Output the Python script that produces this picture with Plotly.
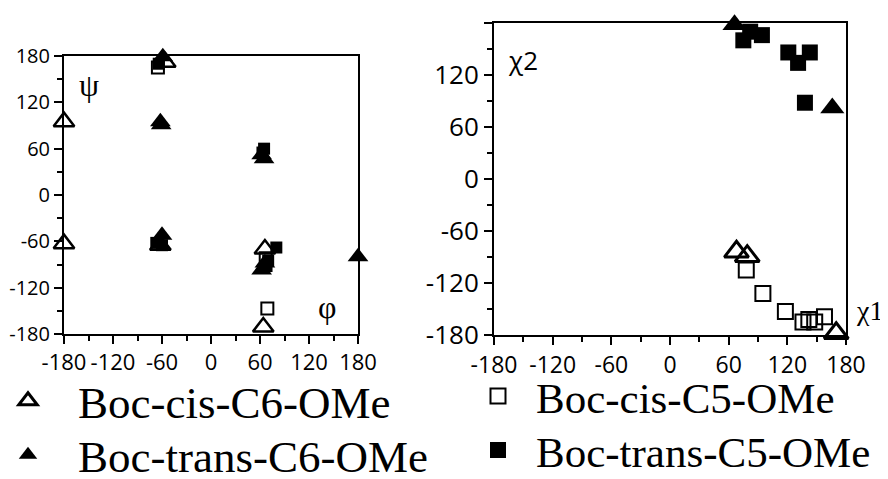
import plotly.graph_objects as go

# ---- data (phi/psi, left panel) ----
cis6_phi = [-180, -180, -62, -56, 66, 64]
cis6_psi = [95, -63, -65, 172, -70, -171]
trans6_phi = [-59, -62, -61, -60, 62, 65, 62, 66, 180]
trans6_psi = [179, 95, 91, -52, 52, 47, -97, -88, -80]
cis5_phi = [-65, 67, 69]
cis5_psi = [165, -82, -147]
trans5_phi = [-64, -67, -60, 65, 63, 80, 68, 70]
trans5_psi = [170, -62, -65, 60, 55, -68, -92, -85]

# ---- data (chi1/chi2, right panel) ----
cis6_chi1 = [68, 79, 170]
cis6_chi2 = [-84, -89, -178]
trans6_chi1 = [66, 166]
trans6_chi2 = [178, 82]
cis5_chi1 = [78, 95, 118, 136, 142, 148, 158]
cis5_chi2 = [-105, -132, -153, -165, -162, -165, -159]
trans5_chi1 = [75, 82, 94, 121, 143, 131, 138]
trans5_chi2 = [160, 170, 166, 146, 146, 134, 88]

tick_vals = [-180, -120, -60, 0, 60, 120, 180]
tick_text = ["-180", "-120", "-60", "0", "60", "120", "180"]

names = ["Boc-cis-C6-OMe", "Boc-trans-C6-OMe", "Boc-cis-C5-OMe", "Boc-trans-C5-OMe"]

fig = go.Figure()

def add(x, y, xa, ya, name, sym, size, lw, show, leg):
    fig.add_trace(go.Scatter(
        x=x, y=y, mode="markers", name=name, xaxis=xa, yaxis=ya,
        cliponaxis=False, showlegend=show, legend=leg,
        marker=dict(symbol=sym, size=size, color="black",
                    line=dict(color="black", width=lw))))

# left panel
add(cis5_phi, cis5_psi, "x", "y", names[2], "square-open", 12, 2, False, "legend")
add(trans5_phi, trans5_psi, "x", "y", names[3], "square", 12, 0, False, "legend")
add(trans6_phi, trans6_psi, "x", "y", names[1], "triangle-up", 18, 0, False, "legend")
add(cis6_phi, cis6_psi, "x", "y", names[0], "triangle-up-open", 18, 2.5, False, "legend")
# right panel
add(cis5_chi1, cis5_chi2, "x2", "y2", names[2], "square-open", 15, 2, True, "legend3")
add(trans5_chi1, trans5_chi2, "x2", "y2", names[3], "square", 16, 0, True, "legend4")
add(trans6_chi1, trans6_chi2, "x2", "y2", names[1], "triangle-up", 21, 0, True, "legend2")
add(cis6_chi1, cis6_chi2, "x2", "y2", names[0], "triangle-up-open", 21, 3, True, "legend")

# page offset (body margin) compensation
OX, OY = 8, 8
W, H = 888 - OX, 479 - OY
def px(x):
    return (x - OX) / W
def py(y):
    return 1 - (y - OY) / H

def axis(domain, anchor, font):
    return dict(domain=domain, anchor=anchor, range=[-180, 180],
                tickvals=tick_vals, ticktext=tick_text, tickfont=font,
                ticks="outside", ticklen=8, tickwidth=2, tickcolor="black",
                minor=dict(dtick=30, tick0=-180, ticks="outside", ticklen=5,
                           tickwidth=2, tickcolor="black"),
                showline=True, linecolor="black", linewidth=2, mirror=True,
                showgrid=False, zeroline=False, fixedrange=True,
                automargin=False)

fig.update_layout(
    width=W, height=H, margin=dict(l=0, r=0, t=0, b=0, autoexpand=False),
    plot_bgcolor="white", paper_bgcolor="white",
    xaxis=axis([px(64), px(358)], "y", dict(family="Open Sans", size=22, color="black")),
    yaxis=axis([py(334), py(56)], "x", dict(family="Open Sans", size=20, color="black")),
    xaxis2=axis([px(494), px(846)], "y2", dict(family="Open Sans", size=23, color="black")),
    yaxis2=axis([py(335), py(23)], "x2", dict(family="Open Sans", size=26, color="black")),
)

def leg(x0, yc, iw, fs):
    return dict(x=px(x0), y=py(yc), xanchor="left", yanchor="middle",
                font=dict(family="Liberation Serif", size=fs, color="black"),
                bgcolor="rgba(0,0,0,0)", borderwidth=0,
                itemwidth=iw, itemsizing="trace")

fig.update_layout(
    legend=leg(-22, 401, 90, 45), legend2=leg(-22, 455, 90, 45),
    legend3=leg(460, 396, 66, 43), legend4=leg(460, 450, 66, 43),
)

ann = [
    dict(text="ψ", x=-150, y=142, xref="x", yref="y", font=dict(family="Liberation Serif", size=32)),
    dict(text="φ", x=142, y=-145, xref="x", yref="y", font=dict(family="Liberation Serif", size=32)),
    dict(text="χ2", x=-150, y=137, xref="x2", yref="y2", font=dict(family="Open Sans", size=26)),
    dict(text="χ1", x=px(885), y=py(310), xref="paper", yref="paper", xanchor="right",
         font=dict(family="Liberation Serif", size=28)),
]
for a in ann:
    a.update(showarrow=False)
    a["font"]["color"] = "black"
fig.update_layout(annotations=ann)

fig.write_html("out.html")
